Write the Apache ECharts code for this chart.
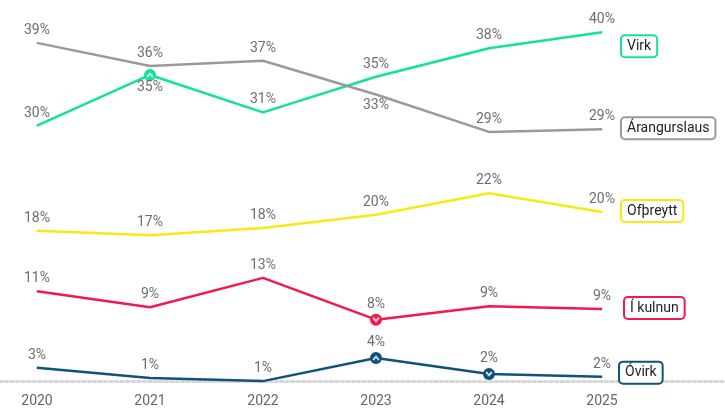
<!DOCTYPE html>
<html>
<head>
<meta charset="utf-8">
<script src="https://cdn.jsdelivr.net/npm/echarts@6/dist/echarts.min.js"></script>
<style>html,body{margin:0;padding:0;background:#fff;}#c{width:725px;height:418px;}</style>
</head>
<body>
<div id="c"></div>
<script>
const years = ['2020','2021','2022','2023','2024','2025'];
const virk = [29.7, 35.4, 31.2, 35.2, 38.4, 40.2];
const arangurslaus = [39.0, 36.4, 37.0, 33.2, 29.0, 29.3];
const ofthreytt = [17.9, 17.4, 18.2, 19.7, 22.1, 20.0];
const ikulnun = [11.1, 9.3, 12.6, 7.9, 9.4, 9.1];
const ovirk = [2.5, 1.35, 1.0, 3.6, 1.8, 1.5];
// significance flags: 'up' / 'down' / null
const virkFlags = [null, 'up', null, null, null, null];
const arangFlags = [null, null, null, null, null, null];
const ofthFlags = [null, null, null, null, null, null];
const ikulFlags = [null, null, null, 'down', null, null];
const ovirkFlags = [null, null, null, 'up', 'down', null];
// label placement: 'top' or 'bottom'
const virkLabelPos = ['top', 'bottom', 'top', 'top', 'top', 'top'];
const arangLabelPos = ['top', 'top', 'top', 'bottom', 'top', 'top'];

const FONT = 'Roboto';
const LABEL_COLOR = '#6e6e6e';
const UP = 'path://M0,6 L5,1 L10,6 L8.2,7.8 L5,4.6 L1.8,7.8 Z';
const DOWN = 'path://M0,2 L5,7 L10,2 L8.2,0.2 L5,3.4 L1.8,0.2 Z';

const defs = [
  {name:'Virk', data:virk, color:'#12E29A', flags:virkFlags, pos:virkLabelPos, offset:[0,14]},
  {name:'Árangurslaus', data:arangurslaus, color:'#9A9A9A', flags:arangFlags, pos:arangLabelPos, offset:[0,-1]},
  {name:'Ofþreytt', data:ofthreytt, color:'#FBE810', flags:ofthFlags, pos:null, offset:[0,-1]},
  {name:'Í kulnun', data:ikulnun, color:'#F2194C', flags:ikulFlags, pos:null, offset:[3,-1]},
  {name:'Óvirk', data:ovirk, color:'#0D5478', flags:ovirkFlags, pos:null, offset:[-2,-4]}
];

const series = [];
defs.forEach(d => {
  series.push({
    name: d.name,
    type: 'line',
    data: d.data.map((v, i) => {
      const item = {value: v};
      if (d.flags[i]) { item.symbol = 'circle'; item.symbolSize = 12; }
      else { item.symbol = 'circle'; item.symbolSize = 1; }
      const p = d.pos ? d.pos[i] : 'top';
      item.label = {position: p, distance: p === 'top' ? (d.flags[i] ? 2 : 5) : (d.flags[i] ? 0 : 3)};
      return item;
    }),
    lineStyle: {color: d.color, width: 2.5},
    itemStyle: {color: d.color},
    showSymbol: true,
    showAllSymbol: true,
    clip: false,
    z: 3,
    label: {
      show: true,
      formatter: p => Math.round(p.value) + '%',
      color: LABEL_COLOR,
      fontFamily: FONT,
      fontSize: 14
    },
    labelLayout: {hideOverlap: false},
    endLabel: {
      show: true,
      formatter: d.name,
      distance: 20,
      offset: d.offset,
      backgroundColor: '#fff',
      borderColor: d.color,
      borderWidth: 2,
      borderRadius: 3,
      padding: [3, 5, 3, 5],
      color: '#222',
      fontFamily: FONT,
      fontSize: 14
    },
    emphasis: {disabled: true},
    animation: false
  });
  const pts = [];
  d.flags.forEach((f, i) => {
    if (f) pts.push({value: [years[i], d.data[i]], symbol: f === 'up' ? UP : DOWN});
  });
  if (pts.length) {
    series.push({
      type: 'scatter',
      data: pts,
      symbolSize: [7, 5.5],
      itemStyle: {color: '#fff'},
      z: 5,
      silent: true,
      animation: false
    });
  }
});

const chart = echarts.init(document.getElementById('c'));
chart.setOption({
  backgroundColor: '#fff',
  animation: false,
  grid: [
    {left: 37, right: 123, top: 16.2, bottom: 28},
    {left: 0, right: 0, top: 0, bottom: 37}
  ],
  xAxis: [
    {
      type: 'category', data: years, boundaryGap: false,
      axisLine: {show: false}, axisTick: {show: false},
      axisLabel: {color: '#666', fontFamily: FONT, fontSize: 14, margin: 4}
    },
    {
      gridIndex: 1, type: 'value', min: 0, max: 1,
      axisLine: {show: true, lineStyle: {color: '#d6d6d6', type: [2.5, 3], width: 3}},
      axisTick: {show: false}, axisLabel: {show: false}, splitLine: {show: false}
    }
  ],
  yAxis: [
    {type: 'value', min: 0, max: 42, show: false, splitLine: {show: false}},
    {gridIndex: 1, type: 'value', show: false}
  ],
  series: series
});
</script>
</body>
</html>
